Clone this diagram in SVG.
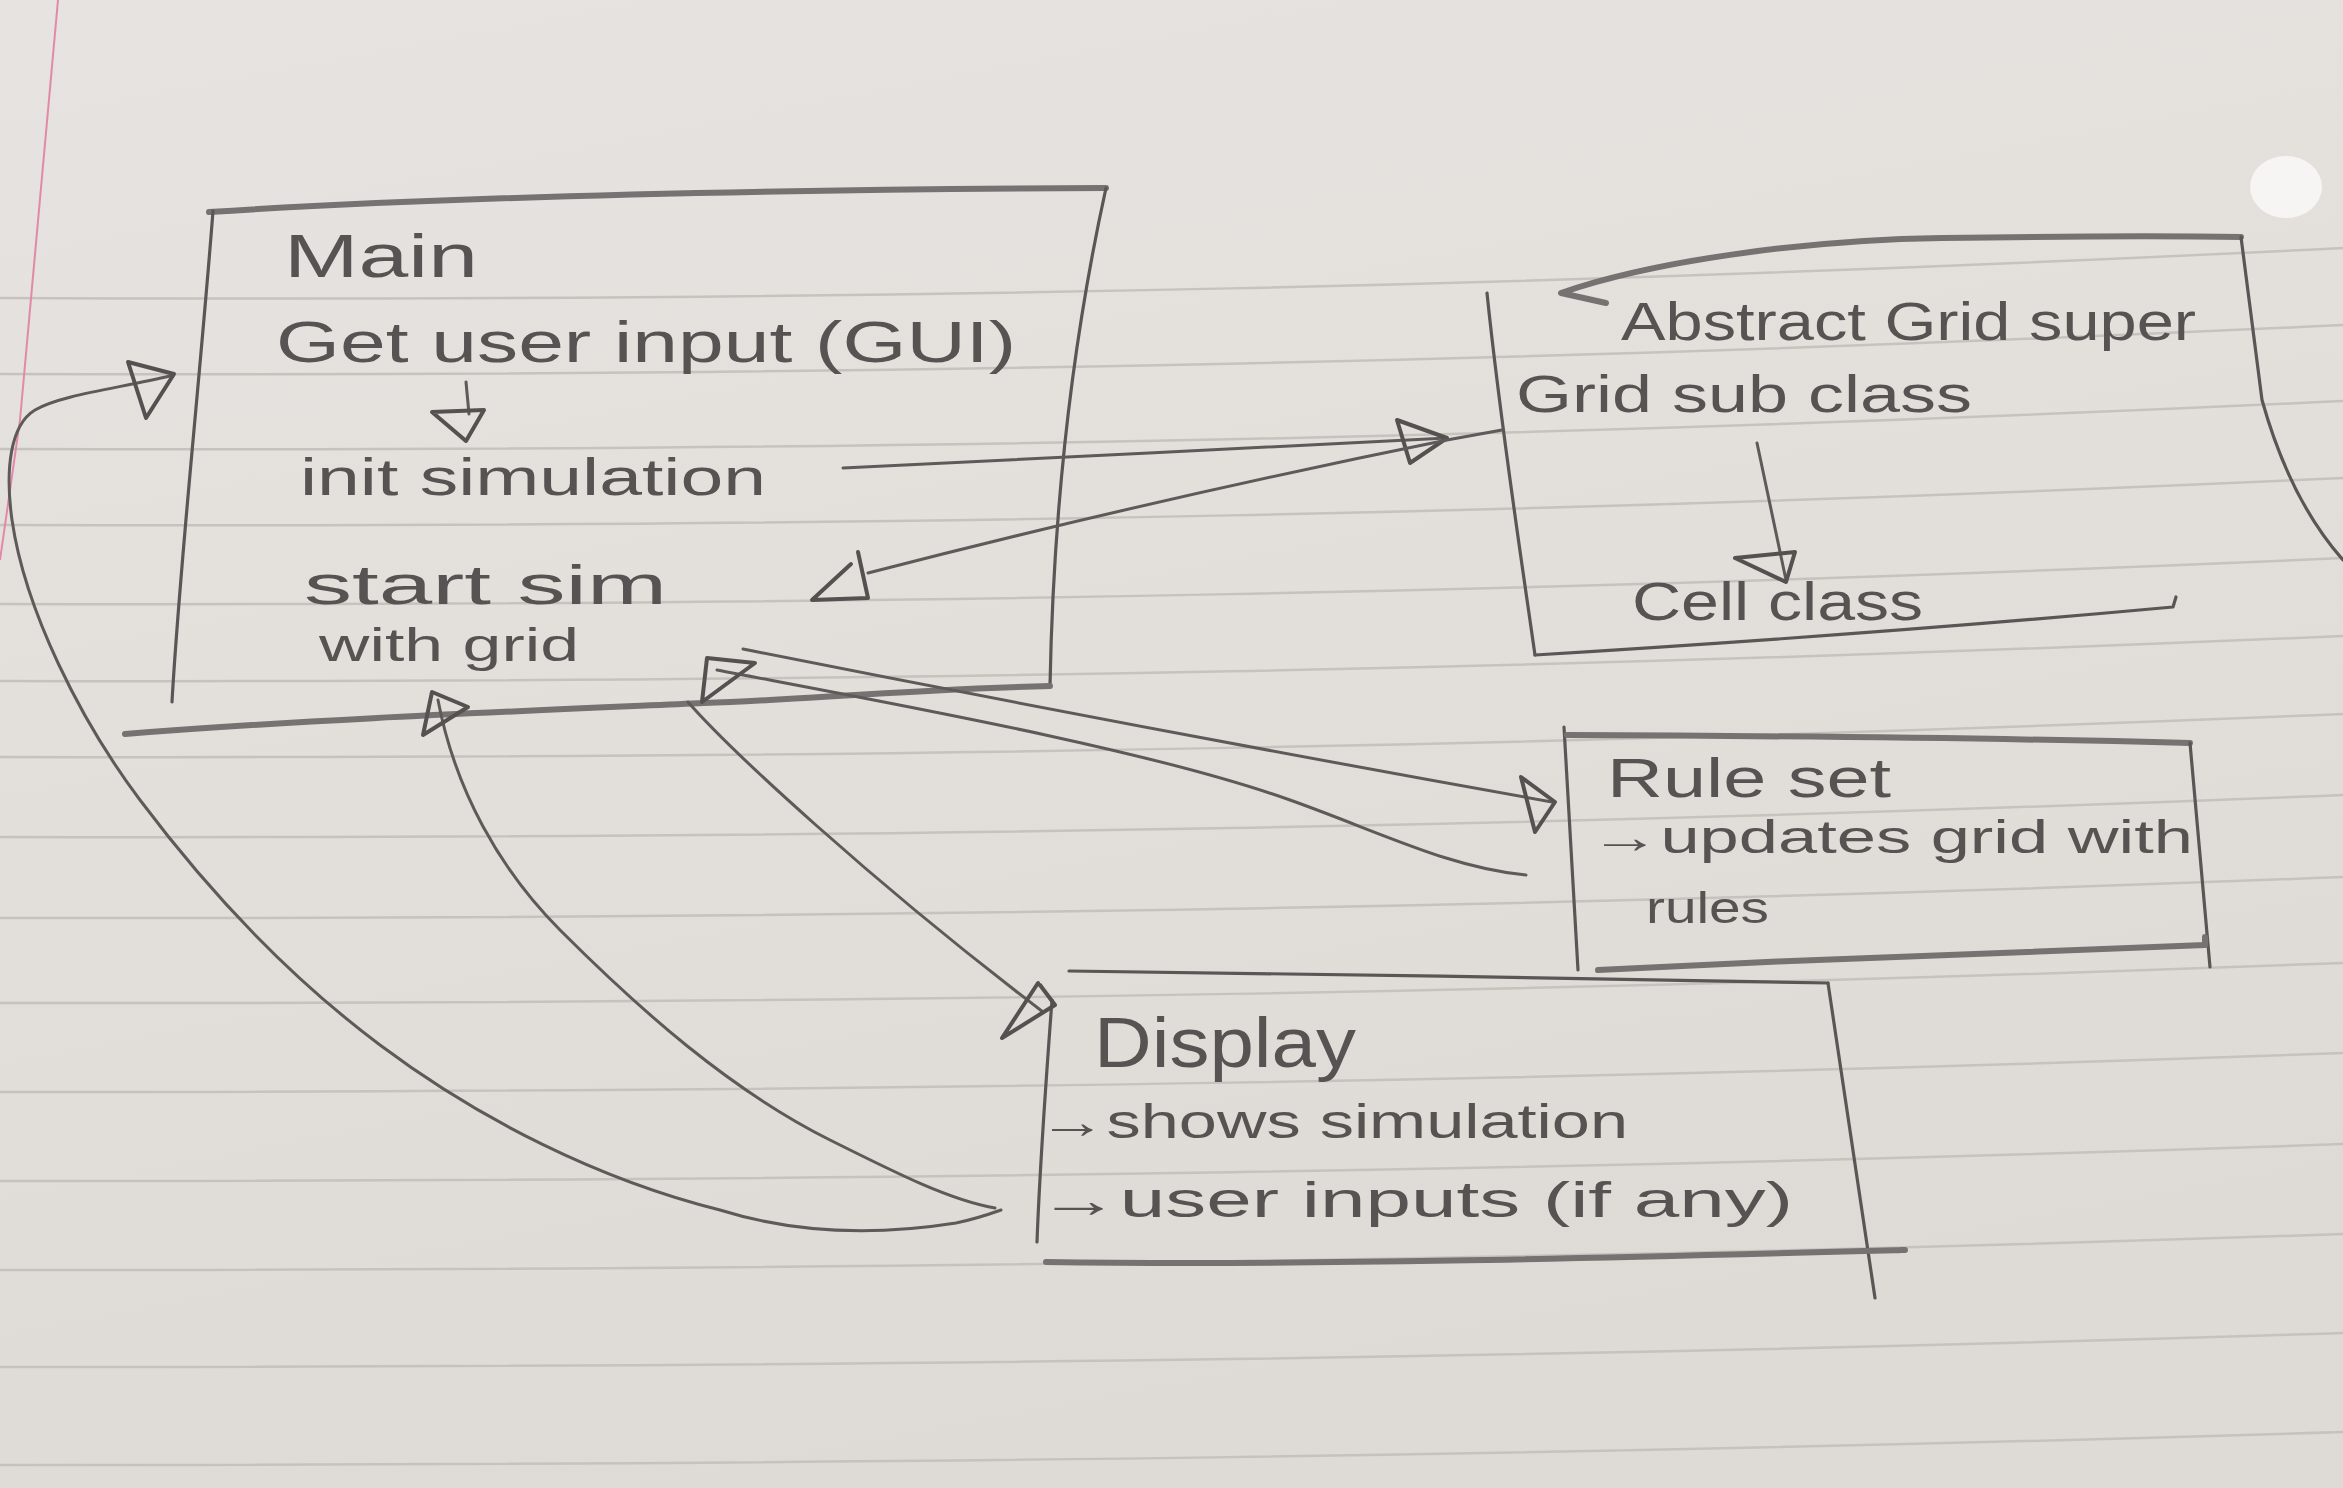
<svg xmlns="http://www.w3.org/2000/svg" width="2343" height="1488" viewBox="0 0 2343 1488">
<defs>
<linearGradient id="paper" x1="0" y1="0" x2="0.3" y2="1">
<stop offset="0" stop-color="#e7e3e0"/>
<stop offset="1" stop-color="#dedad5"/>
</linearGradient>
<style>
.rule{fill:none;stroke:#c7c2be;stroke-width:2.5}
.edge{fill:none;stroke:#5a5656;stroke-width:3.2;stroke-linecap:round;stroke-linejoin:round}
.edge-thick{fill:none;stroke:#767272;stroke-width:6;stroke-linecap:round;stroke-linejoin:round}
.wire{fill:none;stroke:#5e5a5a;stroke-width:3;stroke-linecap:round;stroke-linejoin:round}
.head{fill:none;stroke:#555151;stroke-width:4;stroke-linejoin:round;stroke-linecap:round}
.hw{font-family:"Liberation Sans Narrow","Liberation Sans","DejaVu Sans",sans-serif;fill:#575353}
</style>
</defs>
<g id="paper-bg">
<rect x="0" y="0" width="2343" height="1488" fill="url(#paper)"/>
<path class="rule" d="M0,298 C900,302 1600,285 2343,248"/>
<path class="rule" d="M0,374 C900,377 1600,360 2343,325"/>
<path class="rule" d="M0,449 C900,452 1600,436 2343,401"/>
<path class="rule" d="M0,525 C900,528 1600,512 2343,478"/>
<path class="rule" d="M0,604 C900,606 1600,591 2343,558"/>
<path class="rule" d="M0,681 C900,683 1600,668 2343,636"/>
<path class="rule" d="M0,757 C900,759 1600,745 2343,714"/>
<path class="rule" d="M0,837 C900,839 1600,825 2343,795"/>
<path class="rule" d="M0,918 C900,919 1600,906 2343,877"/>
<path class="rule" d="M0,1003 C900,1004 1600,991 2343,963"/>
<path class="rule" d="M0,1092 C900,1092 1600,1080 2343,1053"/>
<path class="rule" d="M0,1181 C900,1181 1600,1170 2343,1144"/>
<path class="rule" d="M0,1270 C900,1270 1600,1259 2343,1234"/>
<path class="rule" d="M0,1367 C900,1367 1600,1357 2343,1333"/>
<path class="rule" d="M0,1465 C900,1465 1600,1455 2343,1432"/>
<path d="M58,0 L20,420 L0,560" fill="none" stroke="#e08aa8" stroke-width="2"/>
<ellipse cx="2286" cy="187" rx="36" ry="31" fill="#f6f5f3"/>
</g>

<g id="node-main">
<path class="edge-thick" d="M209,212 C400,200 700,190 1106,188"/>
<path class="edge" d="M213,211 C200,380 180,560 172,702"/>
<path class="edge" d="M1106,188 Q1055,420 1050,686"/>
<path class="edge-thick" d="M1050,686 C900,690 800,700 704,703 C500,712 300,720 125,734"/>
<text class="hw" x="284" y="277" font-size="62" textLength="194" lengthAdjust="spacingAndGlyphs">Main</text>
<text class="hw" x="276" y="362" font-size="58" textLength="740" lengthAdjust="spacingAndGlyphs">Get user input (GUI)</text>
<text class="hw" x="300" y="495" font-size="52" textLength="466" lengthAdjust="spacingAndGlyphs">init simulation</text>
<text class="hw" x="304" y="604" font-size="56" textLength="363" lengthAdjust="spacingAndGlyphs">start sim</text>
<text class="hw" x="319" y="661" font-size="46" textLength="260" lengthAdjust="spacingAndGlyphs">with grid</text>
</g>

<g id="node-abstract-grid">
<path class="edge-thick" d="M1606,303 L1561,293 C1650,262 1800,240 1942,238 C2080,236 2180,236 2241,237"/>
<path class="edge" d="M2241,237 L2262,400 Q2290,500 2343,560"/>
<path class="edge" d="M1487,293 C1500,420 1520,550 1535,655"/>
<path class="edge" d="M1535,655 C1700,645 1900,632 2173,607 L2176,597"/>
<text class="hw" x="1621" y="340" font-size="54" textLength="575" lengthAdjust="spacingAndGlyphs">Abstract Grid super</text>
<text class="hw" x="1516" y="412" font-size="52" textLength="456" lengthAdjust="spacingAndGlyphs">Grid sub class</text>
<text class="hw" x="1632" y="620" font-size="54" textLength="291" lengthAdjust="spacingAndGlyphs">Cell class</text>
</g>

<g id="node-ruleset">
<path class="edge" d="M1564,727 L1578,970"/>
<path class="edge-thick" d="M1567,735 C1800,736 2000,738 2190,743"/>
<path class="edge" d="M2190,743 L2210,967"/>
<path class="edge-thick" d="M1598,970 C1800,960 2000,952 2205,945 L2205,937"/>
<text class="hw" x="1607" y="797" font-size="56" textLength="284" lengthAdjust="spacingAndGlyphs">Rule set</text>
<text class="hw" x="1590" y="853" font-size="46" textLength="603" lengthAdjust="spacingAndGlyphs">→updates grid with</text>
<text class="hw" x="1646" y="923" font-size="44" textLength="123" lengthAdjust="spacingAndGlyphs">rules</text>
</g>

<g id="node-display">
<path class="edge" d="M1069,971 C1300,974 1600,978 1828,983"/>
<path class="edge" d="M1828,983 C1845,1100 1860,1200 1875,1298"/>
<path class="edge" d="M1052,1000 C1046,1080 1040,1160 1037,1242"/>
<path class="edge-thick" d="M1046,1262 C1300,1266 1600,1258 1905,1250"/>
<text class="hw" x="1094" y="1067" font-size="70" textLength="262" lengthAdjust="spacingAndGlyphs">Display</text>
<text class="hw" x="1038" y="1138" font-size="48" textLength="590" lengthAdjust="spacingAndGlyphs">→shows simulation</text>
<text class="hw" x="1038" y="1217" font-size="50" textLength="755" lengthAdjust="spacingAndGlyphs">→user inputs (if any)</text>
</g>

<g id="connectors">
<path class="wire" d="M466,382 L469,414"/>
<polygon class="head" points="432,412 484,410 466,441"/>
<path class="wire" d="M1757,443 L1786,580"/>
<polygon class="head" points="1735,558 1795,552 1786,582"/>
<path class="wire" d="M843,468 L1149,453 L1447,438"/>
<polygon class="head" points="1397,420 1447,438 1410,463"/>
<path class="wire" d="M1502,430 L1447,440 Q1150,500 868,573"/>
<path class="head" d="M851,564 L812,600 L868,598 L858,552"/>
<path class="wire" d="M743,649 Q1150,730 1552,802"/>
<polygon class="head" points="1521,777 1555,802 1535,832"/>
<path class="wire" d="M1526,875 C1450,868 1380,832 1290,800 C1150,750 900,705 717,670"/>
<polygon class="head" points="707,658 755,663 702,702"/>
<path class="wire" d="M688,702 C730,750 870,880 1043,1012"/>
<path class="head" d="M1038,983 L1002,1038 L1055,1005 L1040,985"/>
<path class="wire" d="M995,1208 C950,1200 900,1175 830,1140 C730,1090 640,1010 560,930 C500,870 455,790 438,700"/>
<polygon class="head" points="432,692 468,707 423,735"/>
<path class="wire" d="M1001,1210 C995,1212 980,1218 956,1223 C880,1235 800,1235 720,1210 C600,1180 480,1120 380,1045 C280,970 200,880 140,800 C80,720 25,610 12,520 C5,470 10,425 35,410 C60,395 120,388 170,376"/>
<polygon class="head" points="128,362 174,374 146,418"/>
</g>
</svg>
